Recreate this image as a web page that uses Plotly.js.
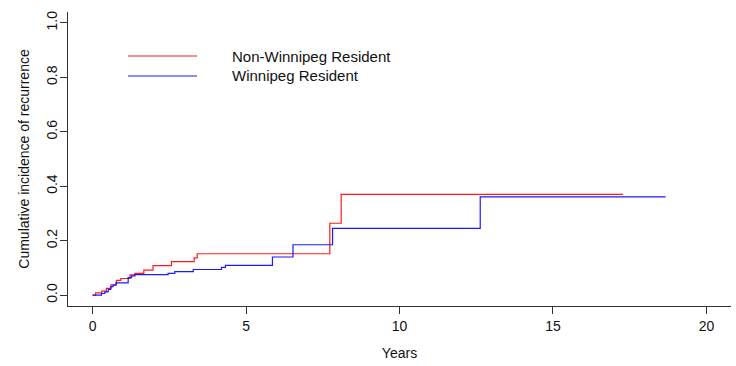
<!DOCTYPE html>
<html>
<head>
<meta charset="utf-8">
<script src="https://cdn.plot.ly/plotly-3.0.1.min.js"></script>
<style>html,body{margin:0;padding:0;background:#fff;}#chart{width:736px;height:366px;}</style>
</head>
<body>
<div id="chart"></div>
<script>
// Non-Winnipeg Resident (red) step curve
const redYears = [0, 0.1, 0.3, 0.45, 0.6, 0.78, 0.92, 1.22, 1.38, 1.67, 1.97, 2.57, 3.31, 3.41, 7.73, 8.10, 17.28];
const redCIF   = [0, 0.008, 0.015, 0.025, 0.038, 0.054, 0.061, 0.074, 0.080, 0.092, 0.108, 0.123, 0.137, 0.152, 0.264, 0.370, 0.370];
// Winnipeg Resident (blue) step curve
const blueYears = [0, 0.29, 0.4, 0.51, 0.59, 0.67, 0.76, 1.16, 1.27, 1.38, 2.46, 2.68, 3.28, 4.20, 4.33, 5.86, 6.53, 7.82, 12.63, 18.67];
const blueCIF   = [0, 0.006, 0.012, 0.021, 0.031, 0.037, 0.045, 0.064, 0.071, 0.075, 0.080, 0.086, 0.094, 0.102, 0.109, 0.140, 0.185, 0.245, 0.361, 0.361];

const seriesNames = ["Non-Winnipeg Resident", "Winnipeg Resident"];
const xTicks = [0, 5, 10, 15, 20];
const yTicks = [0.0, 0.2, 0.4, 0.6, 0.8, 1.0];
const yTickText = ["0.0", "0.2", "0.4", "0.6", "0.8", "1.0"];

const font = "Liberation Sans, Arial, sans-serif";
const redCol = "#ff1a1a";
const blueCol = "#1a1aff";

const traces = [
  {x: redYears, y: redCIF, mode: "lines", line: {shape: "hv", color: redCol, width: 1.2}, name: seriesNames[0], showlegend: false},
  {x: blueYears, y: blueCIF, mode: "lines", line: {shape: "hv", color: blueCol, width: 1.2}, name: seriesNames[1], showlegend: false}
];

const layout = {
  width: 736, height: 366,
  margin: {l: 68, r: 5, t: 12, b: 60},
  paper_bgcolor: "#fff", plot_bgcolor: "#fff",
  font: {family: font, size: 14, color: "#111"},
  xaxis: {
    range: [-0.8, 20.8], tickvals: xTicks, ticks: "outside", ticklen: 7, tickcolor: "#333",
    showline: true, linecolor: "#333", linewidth: 1, showgrid: false, zeroline: false,
    title: {text: "Years", font: {family: font, size: 14}, standoff: 15},
    tickfont: {family: font, size: 14}
  },
  yaxis: {
    range: [-0.04, 1.04], tickvals: yTicks, ticktext: yTickText, ticks: "outside", ticklen: 7, tickcolor: "#333",
    showline: true, linecolor: "#333", linewidth: 1, showgrid: false, zeroline: false,
    tickangle: -90, ticklabelstandoff: -3,
    title: {text: "Cumulative incidence of recurrence", font: {family: font, size: 14}, standoff: 11},
    tickfont: {family: font, size: 14}
  },
  shapes: [
    {type: "line", xref: "paper", yref: "paper", x0: (128-68)/663, x1: (197-68)/663, y0: (306-56)/294, y1: (306-56)/294, line: {color: redCol, width: 1.2}},
    {type: "line", xref: "paper", yref: "paper", x0: (128-68)/663, x1: (197-68)/663, y0: (306-76)/294, y1: (306-76)/294, line: {color: blueCol, width: 1.2}}
  ],
  annotations: [
    {xref: "paper", yref: "paper", x: (230-68)/663, y: (306-56)/294, xanchor: "left", yanchor: "middle", text: seriesNames[0], showarrow: false, font: {family: font, size: 15, color: "#111"}},
    {xref: "paper", yref: "paper", x: (230-68)/663, y: (306-75.5)/294, xanchor: "left", yanchor: "middle", text: seriesNames[1], showarrow: false, font: {family: font, size: 15, color: "#111"}}
  ]
};

Plotly.newPlot("chart", traces, layout, {displayModeBar: false, staticPlot: true});
</script>
</body>
</html>
